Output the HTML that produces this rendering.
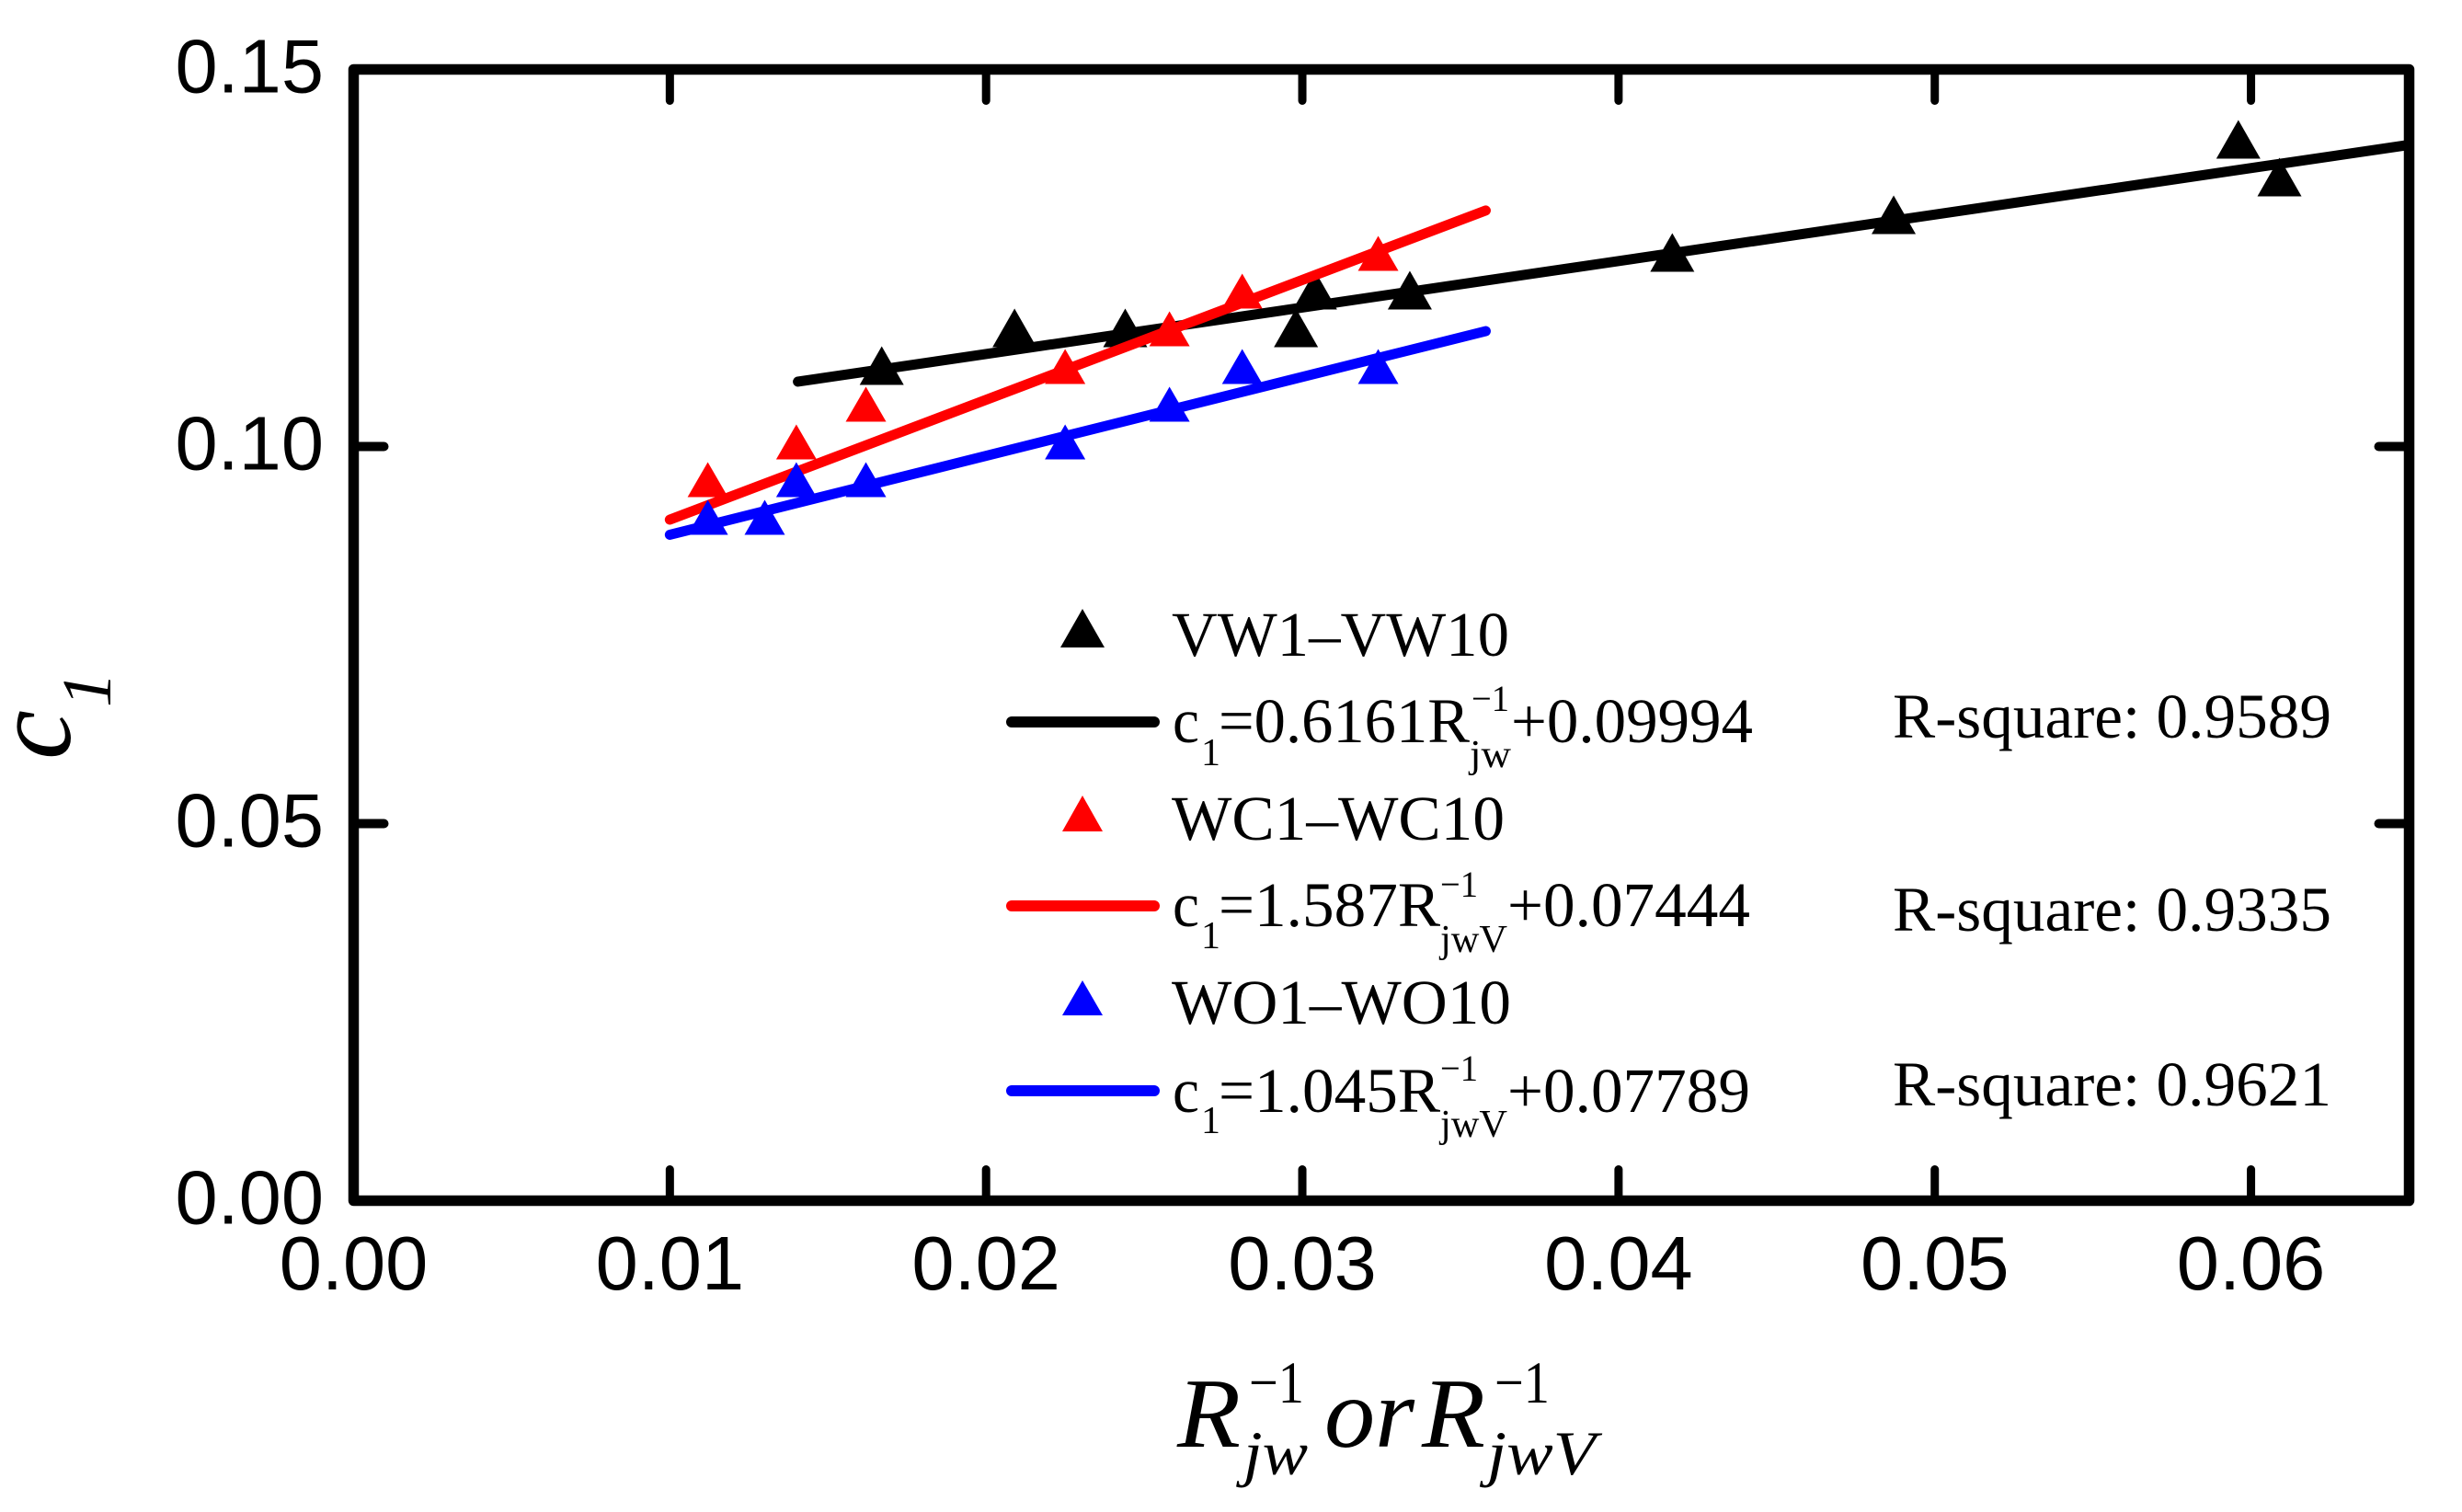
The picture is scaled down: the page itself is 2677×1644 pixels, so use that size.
<!DOCTYPE html>
<html>
<head>
<meta charset="utf-8">
<title>c1 versus inverse R</title>
<style>
html,body{margin:0;padding:0;background:#fff;width:2677px;height:1644px;overflow:hidden}
svg{display:block}
.serif{font-family:"Liberation Serif",serif;fill:#000}
.sans{font-family:"Liberation Sans",sans-serif;fill:#000}
.it{font-style:italic}
</style>
</head>
<body>
<svg id="chart" xmlns="http://www.w3.org/2000/svg" width="2677" height="1644" viewBox="0 0 2677 1644">
<rect width="2677" height="1644" fill="#fff"/>
<g id="series"></g>
<g id="axes"></g>

<g>
<text class="serif it" transform="translate(76,826) rotate(-90)" font-size="122" textLength="54" lengthAdjust="spacingAndGlyphs">c</text>
<text class="serif it" transform="translate(120,769) rotate(-90)" font-size="76">1</text>
</g>

<g class="serif it">
<text x="1280" y="1573" font-size="108" textLength="69" lengthAdjust="spacingAndGlyphs">R</text>
<text x="1358" y="1525" font-size="65" textLength="60" lengthAdjust="spacingAndGlyphs" style="font-style:normal">−1</text>
<text x="1352" y="1603" font-size="68" textLength="70" lengthAdjust="spacingAndGlyphs">jw</text>
<text x="1440" y="1573" font-size="108" textLength="98" lengthAdjust="spacingAndGlyphs">or</text>
<text x="1546" y="1573" font-size="108" textLength="69" lengthAdjust="spacingAndGlyphs">R</text>
<text x="1625" y="1525" font-size="65" textLength="60" lengthAdjust="spacingAndGlyphs" style="font-style:normal">−1</text>
<text x="1617" y="1603" font-size="68" textLength="118" lengthAdjust="spacingAndGlyphs">jwV</text>
</g>

<g class="serif">
<g>
<polygon points="1177,662 1201,704 1153,704" fill="#000"/>
<text x="1274" y="713" font-size="69" textLength="367" lengthAdjust="spacingAndGlyphs">VW1–VW10</text>
</g>
<g>
<line x1="1100" y1="785" x2="1255" y2="785" stroke="#000" stroke-width="12" stroke-linecap="round"/>
<text x="1275" y="807" font-size="69" textLength="29" lengthAdjust="spacingAndGlyphs">c</text>
<text x="1306" y="832" font-size="42">1</text>
<text x="1325" y="807" font-size="69" textLength="273" lengthAdjust="spacingAndGlyphs">=0.6161R</text>
<text x="1600" y="773" font-size="40" textLength="41" lengthAdjust="spacingAndGlyphs">−1</text>
<text x="1598" y="834" font-size="42" textLength="45" lengthAdjust="spacingAndGlyphs">jw</text>
<text x="1643" y="807" font-size="69" textLength="263" lengthAdjust="spacingAndGlyphs">+0.09994</text>
<text x="2058" y="802" font-size="69" textLength="477" lengthAdjust="spacingAndGlyphs">R-square: 0.9589</text>
</g>
<g>
<polygon points="1177,865 1199,904 1155,904" fill="#f00"/>
<text x="1274" y="913" font-size="69" textLength="362" lengthAdjust="spacingAndGlyphs">WC1–WC10</text>
</g>
<g>
<line x1="1100" y1="985" x2="1255" y2="985" stroke="#f00" stroke-width="12" stroke-linecap="round"/>
<text x="1275" y="1007" font-size="69" textLength="29" lengthAdjust="spacingAndGlyphs">c</text>
<text x="1306" y="1031" font-size="42">1</text>
<text x="1325" y="1007" font-size="69" textLength="241" lengthAdjust="spacingAndGlyphs">=1.587R</text>
<text x="1566" y="975" font-size="40" textLength="41" lengthAdjust="spacingAndGlyphs">−1</text>
<text x="1566" y="1035" font-size="42" textLength="73" lengthAdjust="spacingAndGlyphs">jwV</text>
<text x="1639" y="1007" font-size="69" textLength="264" lengthAdjust="spacingAndGlyphs">+0.07444</text>
<text x="2058" y="1012" font-size="69" textLength="477" lengthAdjust="spacingAndGlyphs">R-square: 0.9335</text>
</g>
<g>
<polygon points="1177,1066 1199,1104 1155,1104" fill="#00f"/>
<text x="1274" y="1113" font-size="69" textLength="369" lengthAdjust="spacingAndGlyphs">WO1–WO10</text>
</g>
<g>
<line x1="1100" y1="1186" x2="1255" y2="1186" stroke="#00f" stroke-width="12" stroke-linecap="round"/>
<text x="1275" y="1209" font-size="69" textLength="29" lengthAdjust="spacingAndGlyphs">c</text>
<text x="1306" y="1232" font-size="42">1</text>
<text x="1325" y="1209" font-size="69" textLength="241" lengthAdjust="spacingAndGlyphs">=1.045R</text>
<text x="1566" y="1175" font-size="40" textLength="41" lengthAdjust="spacingAndGlyphs">−1</text>
<text x="1566" y="1236" font-size="42" textLength="73" lengthAdjust="spacingAndGlyphs">jwV</text>
<text x="1639" y="1209" font-size="69" textLength="264" lengthAdjust="spacingAndGlyphs">+0.07789</text>
<text x="2058" y="1202" font-size="69" textLength="477" lengthAdjust="spacingAndGlyphs">R-square: 0.9621</text>
</g>
</g>
</svg>
<script>
var xTickValues = [0, 0.01, 0.02, 0.03, 0.04, 0.05, 0.06];
var xTickLabels = ["0.00", "0.01", "0.02", "0.03", "0.04", "0.05", "0.06"];
var yTickValues = [0, 0.05, 0.10, 0.15];
var yTickLabels = ["0.00", "0.05", "0.10", "0.15"];

var vwX = [0.0167, 0.0209, 0.0244, 0.0298, 0.0304, 0.0334, 0.0417, 0.0487, 0.0596, 0.0609];
var vwY = [0.110, 0.115, 0.115, 0.115, 0.120, 0.120, 0.125, 0.130, 0.140, 0.135];
var vwFitX = [0.01405, 0.065];
var vwFitY = [0.1086, 0.1400];

var wcX = [0.0112, 0.0140, 0.0162, 0.0225, 0.0258, 0.0281, 0.0324];
var wcY = [0.095, 0.100, 0.105, 0.110, 0.115, 0.120, 0.125];
var wcFitX = [0.0100, 0.0358];
var wcFitY = [0.0903, 0.1313];

var woX = [0.0112, 0.0130, 0.0140, 0.0162, 0.0225, 0.0258, 0.0281, 0.0324];
var woY = [0.090, 0.090, 0.095, 0.095, 0.100, 0.105, 0.110, 0.110];
var woFitX = [0.0100, 0.0358];
var woFitY = [0.0883, 0.1153];

var NS = "http://www.w3.org/2000/svg";
var seriesLayer = document.getElementById("series");
var axesLayer = document.getElementById("axes");

function xScale(v) { return 384.5 + (v / 0.065) * 2235; }
function yScale(v) { return 1305.5 - (v / 0.15) * 1230; }

function make(tag, parent, attrs) {
  var el = document.createElementNS(NS, tag);
  for (var k in attrs) { el.setAttribute(k, attrs[k]); }
  parent.appendChild(el);
  return el;
}

function drawSeries(key, xs, ys, fitX, fitY, color, halfW, up, down) {
  var g = make("g", seriesLayer, {});
  
  
  var line = make("line", g, {
    x1: xScale(fitX[0]), y1: yScale(fitY[0]),
    x2: xScale(fitX[1]), y2: yScale(fitY[1]),
    stroke: color, "stroke-width": 11, "stroke-linecap": "round"
  });
  
  
  for (var i = 0; i < xs.length; i++) {
    var cx = xScale(xs[i]);
    var cy = yScale(ys[i]);
    var tri = make("polygon", g, {
      points: cx + "," + (cy - up) + " " + (cx + halfW) + "," + (cy + down) + " " + (cx - halfW) + "," + (cy + down),
      fill: color
    });
    
    
  }
}

drawSeries("vw", vwX, vwY, vwFitX, vwFitY, "#000", 24, 27, 15);
drawSeries("wc", wcX, wcY, wcFitX, wcFitY, "#f00", 22, 24, 14);
drawSeries("wo", woX, woY, woFitX, woFitY, "#00f", 22, 24, 14);

var frame = make("rect", axesLayer, {
  x: xScale(0), y: yScale(0.15), width: xScale(0.065) - xScale(0), height: yScale(0) - yScale(0.15),
  fill: "none", stroke: "#000", "stroke-width": 11.5, "stroke-linejoin": "round"
});



xTickValues.forEach(function (v, i) {
  var x = xScale(v);
  if (v > 0) {
    var t1 = make("line", axesLayer, { x1: x, x2: x, y1: yScale(0), y2: yScale(0) - 34, stroke: "#000", "stroke-width": 9, "stroke-linecap": "round" });
    
    
    var t2 = make("line", axesLayer, { x1: x, x2: x, y1: yScale(0.15), y2: yScale(0.15) + 34, stroke: "#000", "stroke-width": 9, "stroke-linecap": "round" });
    
    
  }
  var lab = make("text", axesLayer, { x: x, y: 1402, "text-anchor": "middle", "font-size": 83, "class": "sans" });
  
  
  lab.textContent = xTickLabels[i];
});

yTickValues.forEach(function (v, i) {
  var y = yScale(v);
  if (v > 0 && v < 0.15) {
    var t1 = make("line", axesLayer, { x1: xScale(0), x2: xScale(0) + 33, y1: y, y2: y, stroke: "#000", "stroke-width": 10, "stroke-linecap": "round" });
    
    
    var t2 = make("line", axesLayer, { x1: xScale(0.065), x2: xScale(0.065) - 33, y1: y, y2: y, stroke: "#000", "stroke-width": 10, "stroke-linecap": "round" });
    
    
  }
  var lab = make("text", axesLayer, { x: 352, y: y + 25, "text-anchor": "end", "font-size": 83, "class": "sans" });
  
  
  lab.textContent = yTickLabels[i];
});
</script>
</body>
</html>
